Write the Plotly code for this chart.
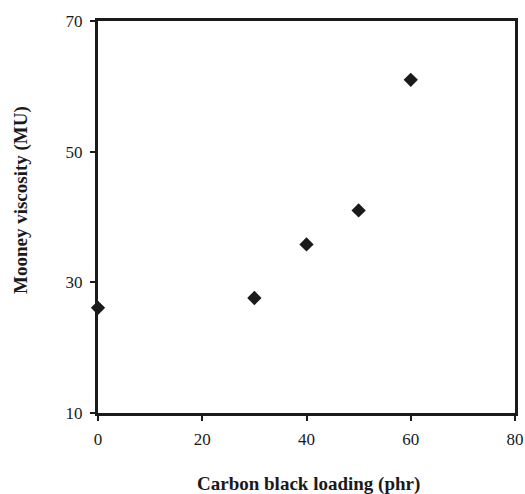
import plotly.graph_objects as go

carbon_black_phr = [0, 30, 40, 50, 60]
mooney_viscosity = [26.1, 27.6, 35.8, 41.0, 61.0]
x_ticks = [0, 20, 40, 60, 80]
y_ticks = [10, 30, 50, 70]

ink = "#1a1a1a"
serif = "Liberation Serif, Times New Roman, serif"

fig = go.Figure()
fig.add_trace(go.Scatter(
    x=carbon_black_phr, y=mooney_viscosity, mode="markers",
    marker=dict(symbol="diamond", size=11, color=ink),
    cliponaxis=False, showlegend=False))

fig.update_layout(
    width=525, height=494,
    margin=dict(l=98, r=10, t=21, b=81),
    paper_bgcolor="white", plot_bgcolor="white",
    font=dict(family=serif, color=ink, size=17),
)
fig.update_xaxes(
    range=[0, 80], tickvals=x_ticks, ticks="outside", ticklen=5, tickwidth=1.5,
    tickcolor=ink, showline=True, linewidth=3, linecolor=ink,
    mirror=True, showgrid=False, zeroline=False, automargin=False,
    tickfont=dict(size=17), ticklabelstandoff=4,
)
fig.update_yaxes(
    range=[10, 70], tickvals=y_ticks, ticks="outside", ticklen=5, tickwidth=1.5,
    tickcolor=ink, showline=True, linewidth=3, linecolor=ink,
    mirror=True, showgrid=False, zeroline=False, automargin=False,
    tickfont=dict(size=17), ticklabelstandoff=4,
)
fig.add_annotation(
    text="<b>Carbon black loading (phr)</b>", xref="paper", yref="paper",
    x=0.505, y=-0.182, xanchor="center", yanchor="middle", showarrow=False,
    font=dict(family=serif, size=19, color=ink))
fig.add_annotation(
    text="<b>Mooney viscosity (MU)</b>", xref="paper", yref="paper",
    x=-0.185, y=0.543, xanchor="center", yanchor="middle", showarrow=False,
    textangle=-90, font=dict(family=serif, size=19, color=ink))
fig.write_html(
    "out.html",
    config={"displayModeBar": False},
    post_script="document.body.style.margin='0';document.body.style.overflow='hidden';",
)
